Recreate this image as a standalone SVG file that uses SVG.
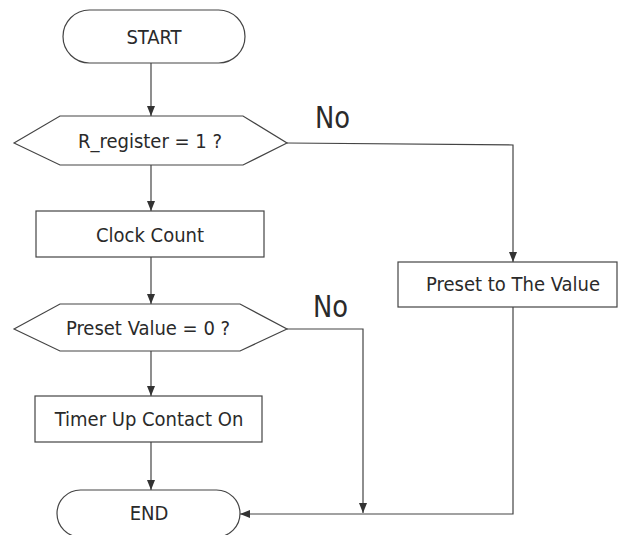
<svg xmlns="http://www.w3.org/2000/svg" width="619" height="535" viewBox="0 0 619 535">
  <defs>
    <marker id="arrow" viewBox="0 0 10 8" refX="10" refY="4" markerWidth="10" markerHeight="8" markerUnits="userSpaceOnUse" orient="auto">
      <path d="M0,0 L10,4 L0,8 Z" fill="#333"/>
    </marker>
    <style>
      .shape { fill: #fff; stroke: #444; stroke-width: 1.2; }
      .label { font-family: "DejaVu Sans Condensed", "Liberation Sans", sans-serif; font-stretch: condensed; font-size: 20px; fill: #2a2a2a; text-anchor: middle; }
      .branch { font-family: "DejaVu Sans Condensed", "Liberation Sans", sans-serif; font-stretch: condensed; font-size: 31px; fill: #2a2a2a; }
      .edge { fill: none; stroke: #444; stroke-width: 1.2; }
    </style>
  </defs>
  <rect width="619" height="535" fill="#fff"/>

  <g id="connectors">
    <path class="edge" d="M151,63 L151,116" marker-end="url(#arrow)"/>
    <path class="edge" d="M151,165 L151,211" marker-end="url(#arrow)"/>
    <path class="edge" d="M151,257 L151,304" marker-end="url(#arrow)"/>
    <path class="edge" d="M151,351 L151,396" marker-end="url(#arrow)"/>
    <path class="edge" d="M151,442 L151,490" marker-end="url(#arrow)"/>
    <path class="edge" d="M287,143 L513,145 L513,262" marker-end="url(#arrow)"/>
    <path class="edge" d="M287,329 L363,329 L363,513" marker-end="url(#arrow)"/>
    <path class="edge" d="M513,307 L513,514 L240,514" marker-end="url(#arrow)"/>
    <text class="branch" x="315" y="128" textLength="35" lengthAdjust="spacingAndGlyphs">No</text>
    <text class="branch" x="313" y="317" textLength="35" lengthAdjust="spacingAndGlyphs">No</text>
  </g>

  <g id="start">
    <rect class="shape" x="63" y="10" width="182" height="53" rx="26.5"/>
    <text class="label" x="154" y="44">START</text>
  </g>

  <g id="check-register">
    <polygon class="shape" points="14,143 60,116 243,116 287,143 243,165 60,165"/>
    <text class="label" x="150" y="148">R_register = 1 ?</text>
  </g>

  <g id="clock-count">
    <rect class="shape" x="36" y="211" width="228" height="46"/>
    <text class="label" x="150" y="242">Clock Count</text>
  </g>

  <g id="check-preset">
    <polygon class="shape" points="14,329 60,304 240,304 287,329 240,351 60,351"/>
    <text class="label" x="148" y="335">Preset Value = 0 ?</text>
  </g>

  <g id="timer-up">
    <rect class="shape" x="35" y="396" width="227" height="46"/>
    <text class="label" x="149" y="426">Timer Up Contact On</text>
  </g>

  <g id="preset-value">
    <rect class="shape" x="398" y="262" width="219" height="45"/>
    <text class="label" x="513" y="291">Preset to The Value</text>
  </g>

  <g id="end">
    <rect class="shape" x="57" y="490" width="183" height="47" rx="23.5"/>
    <text class="label" x="149" y="520">END</text>
  </g>
</svg>
